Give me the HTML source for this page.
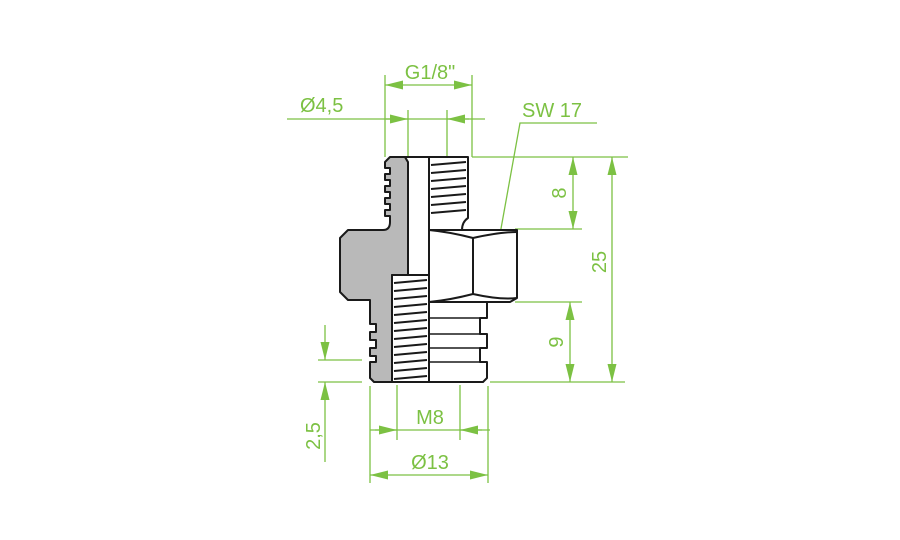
<!DOCTYPE html>
<html><head><style>html,body{margin:0;padding:0;background:#fff}svg{display:block}</style></head>
<body>
<svg width="900" height="540" viewBox="0 0 900 540" xmlns="http://www.w3.org/2000/svg" font-family="Liberation Sans, sans-serif">
<defs>
<marker id="a" viewBox="0 0 18 10" refX="18" refY="5" markerWidth="18" markerHeight="10" markerUnits="userSpaceOnUse" orient="auto-start-reverse"><path d="M0,0.5 L18,5 L0,9.5 z" fill="#7cc143"/></marker>
</defs>
<g stroke="#7cc143" stroke-width="1.3" fill="none">
 <line x1="385" y1="75" x2="385" y2="157"/><line x1="472" y1="75" x2="472" y2="157"/>
 <line x1="385" y1="85" x2="472" y2="85" marker-start="url(#a)" marker-end="url(#a)"/>
 <line x1="408" y1="110" x2="408" y2="157"/><line x1="447" y1="110" x2="447" y2="157"/>
 <line x1="287" y1="119" x2="485" y2="119"/>
 <line x1="386" y1="119" x2="408" y2="119" marker-end="url(#a)"/>
 <line x1="469" y1="119" x2="447" y2="119" marker-end="url(#a)"/>
 <polyline points="597,123 520,123 495,262"/>
 <line x1="472" y1="157" x2="628" y2="157"/>
 <line x1="515" y1="229" x2="582" y2="229"/>
 <line x1="515" y1="302" x2="582" y2="302"/>
 <line x1="490" y1="382" x2="625" y2="382"/>
 <line x1="573" y1="157" x2="573" y2="229" marker-start="url(#a)" marker-end="url(#a)"/>
 <line x1="570" y1="302" x2="570" y2="382" marker-start="url(#a)" marker-end="url(#a)"/>
 <line x1="612" y1="157" x2="612" y2="382" marker-start="url(#a)" marker-end="url(#a)"/>
 <line x1="318" y1="360" x2="362" y2="360"/>
 <line x1="318" y1="382" x2="362" y2="382"/>
 <line x1="325" y1="325" x2="325" y2="360" marker-end="url(#a)"/>
 <line x1="325" y1="462" x2="325" y2="382" marker-end="url(#a)"/>
 <line x1="397" y1="385" x2="397" y2="440"/><line x1="460" y1="385" x2="460" y2="440"/>
 <line x1="370" y1="430" x2="490" y2="430"/>
 <line x1="375" y1="430" x2="397" y2="430" marker-end="url(#a)"/>
 <line x1="482" y1="430" x2="460" y2="430" marker-end="url(#a)"/>
 <line x1="370" y1="386" x2="370" y2="483"/><line x1="488" y1="386" x2="488" y2="483"/>
 <line x1="370" y1="475" x2="488" y2="475" marker-start="url(#a)" marker-end="url(#a)"/>
</g>
<circle cx="495" cy="262" r="2.5" fill="#7cc143"/>
<g fill="#7cc143" font-size="20">
 <text x="430" y="79" text-anchor="middle">G1/8"</text>
 <text x="300" y="112">Ø4,5</text>
 <text x="522" y="117">SW 17</text>
 <text x="430" y="424" text-anchor="middle">M8</text>
 <text x="430" y="469" text-anchor="middle">Ø13</text>
 <text transform="translate(566,193) rotate(-90)" text-anchor="middle">8</text>
 <text transform="translate(563,342) rotate(-90)" text-anchor="middle">9</text>
 <text transform="translate(606,262) rotate(-90)" text-anchor="middle">25</text>
 <text transform="translate(320,436) rotate(-90)" text-anchor="middle">2,5</text>
</g>
<g stroke="#1a1a1a" stroke-width="2" stroke-linejoin="round">
 <path d="M390,157 L405,157 L408,162 L408,275 L392,275 L392,382 L374,382 L370,378 L370,362 L376,362 L376,356 L370,356 L370,348 L376,348 L376,340 L370,340 L370,332 L376,332 L376,324 L370,324 L370,300 L348,300 L340,292 L340,238 L348,230 L383,230 Q390,230 390,222 L390,216 L385,216 L385,210 L390,210 L390,204 L385,204 L385,198 L390,198 L390,192 L385,192 L385,186 L390,186 L390,180 L385,180 L385,174 L390,174 L390,168 L385,168 L385,162 Z" fill="#b9b9b9"/>
 <path d="M405,157 L429,157 L429,275 L408,275 L408,162 Z" fill="#fff"/>
 <path d="M429,157 L468,157 L468,218 Q462,222 462,230 L429,230 Z" fill="#fff"/>
 <path d="M429,230 L517,230 L517,298 L510,302 L429,302 Z" fill="#fff"/>
 <path d="M429,230 Q450,232 473,238 L473,294 Q450,300 429,302 M473,238 Q500,232 517,232 M473,294 Q500,300 517,298" fill="none"/>
 <path d="M429,302 L487,302 L487,318 L480,318 L480,334 L487,334 L487,348 L480,348 L480,362 L487,362 L487,378 L483,382 L429,382 Z" fill="#fff"/>
 <line x1="429" y1="318" x2="480" y2="318" stroke-width="1.5"/>
 <line x1="429" y1="334" x2="480" y2="334" stroke-width="1.5"/>
 <line x1="429" y1="348" x2="480" y2="348" stroke-width="1.5"/>
 <line x1="429" y1="362" x2="480" y2="362" stroke-width="1.5"/>
 <rect x="392" y="275" width="37" height="107" fill="#fff"/>
 <line x1="429" y1="157" x2="429" y2="382"/>
</g>
<g stroke="#1a1a1a" stroke-width="2" fill="none">
 <path d="M431,165 L466,162 M431,173 L466,170 M431,181 L466,178 M431,189 L466,186 M431,197 L466,194 M431,205 L466,202 M431,213 L466,210"/>
 <path d="M394,283 L427,280 M394,291 L427,288 M394,299 L427,296 M394,307 L427,304 M394,315 L427,312 M394,323 L427,320 M394,331 L427,328 M394,339 L427,336 M394,347 L427,344 M394,355 L427,352 M394,363 L427,360 M394,371 L427,368 M394,379 L427,376"/>
</g>
</svg>
</body></html>
